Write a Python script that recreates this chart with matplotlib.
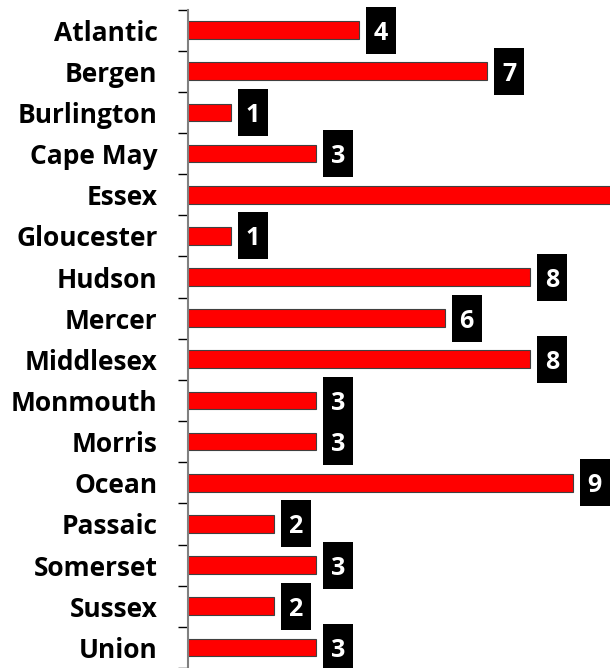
import matplotlib
matplotlib.use("Agg")
import matplotlib.pyplot as plt
from matplotlib.patches import Rectangle
import numpy as np

counties = ["Atlantic", "Bergen", "Burlington", "Cape May", "Essex", "Gloucester",
            "Hudson", "Mercer", "Middlesex", "Monmouth", "Morris", "Ocean",
            "Passaic", "Somerset", "Sussex", "Union"]
values = [4, 7, 1, 3, 10, 1, 8, 6, 8, 3, 3, 9, 2, 3, 2, 3]

plt.rcParams['font.family'] = ['Open Sans', 'DejaVu Sans']

W, H = 610, 668
fig = plt.figure(figsize=(W / 100, H / 100), dpi=100)
ax = fig.add_axes([188 / W, 0.0, 1 - 188 / W, 1 - 9.5 / H])

n = len(counties)
y = np.arange(n)
ax.barh(y, values, height=0.43, color="#FF0000", edgecolor="#404040", linewidth=0.8, zorder=2)

px_per_x = 42.75
ax_w_px = W - 188
ax_h_px = H - 9.5
xmax = ax_w_px / px_per_x
ax.set_xlim(0, xmax)
ax.set_ylim(n - 0.5, -0.5)
px_per_y = ax_h_px / n

gap, bw, bh = 7, 30, 47
for yi, v in zip(y, values):
    x0 = v + gap / px_per_x
    if x0 >= xmax:
        continue  # label falls outside the visible plot area (as in the reference)
    ax.add_patch(Rectangle((x0, yi - bh / 2 / px_per_y), bw / px_per_x, bh / px_per_y,
                           facecolor="black", edgecolor="none", zorder=3, clip_on=False))
    ax.text(x0 + bw / 2 / px_per_x, yi, str(v), ha="center", va="center_baseline",
            color="white", fontsize=18, fontweight="bold", zorder=4)

ax.set_yticks(y)
ax.set_yticklabels(counties, fontsize=19, fontweight="bold")
ax.tick_params(axis="y", which="major", length=0, pad=22)
ax.set_yticks(np.arange(-0.5, n, 1.0), minor=True)
ax.tick_params(axis="y", which="minor", length=7, width=1, color="black")
ax.set_xticks([])

for s in ["top", "right", "bottom"]:
    ax.spines[s].set_visible(False)
ax.spines["left"].set_color("#808080")
ax.spines["left"].set_linewidth(1.5)

fig.savefig("out.png", dpi=100)
